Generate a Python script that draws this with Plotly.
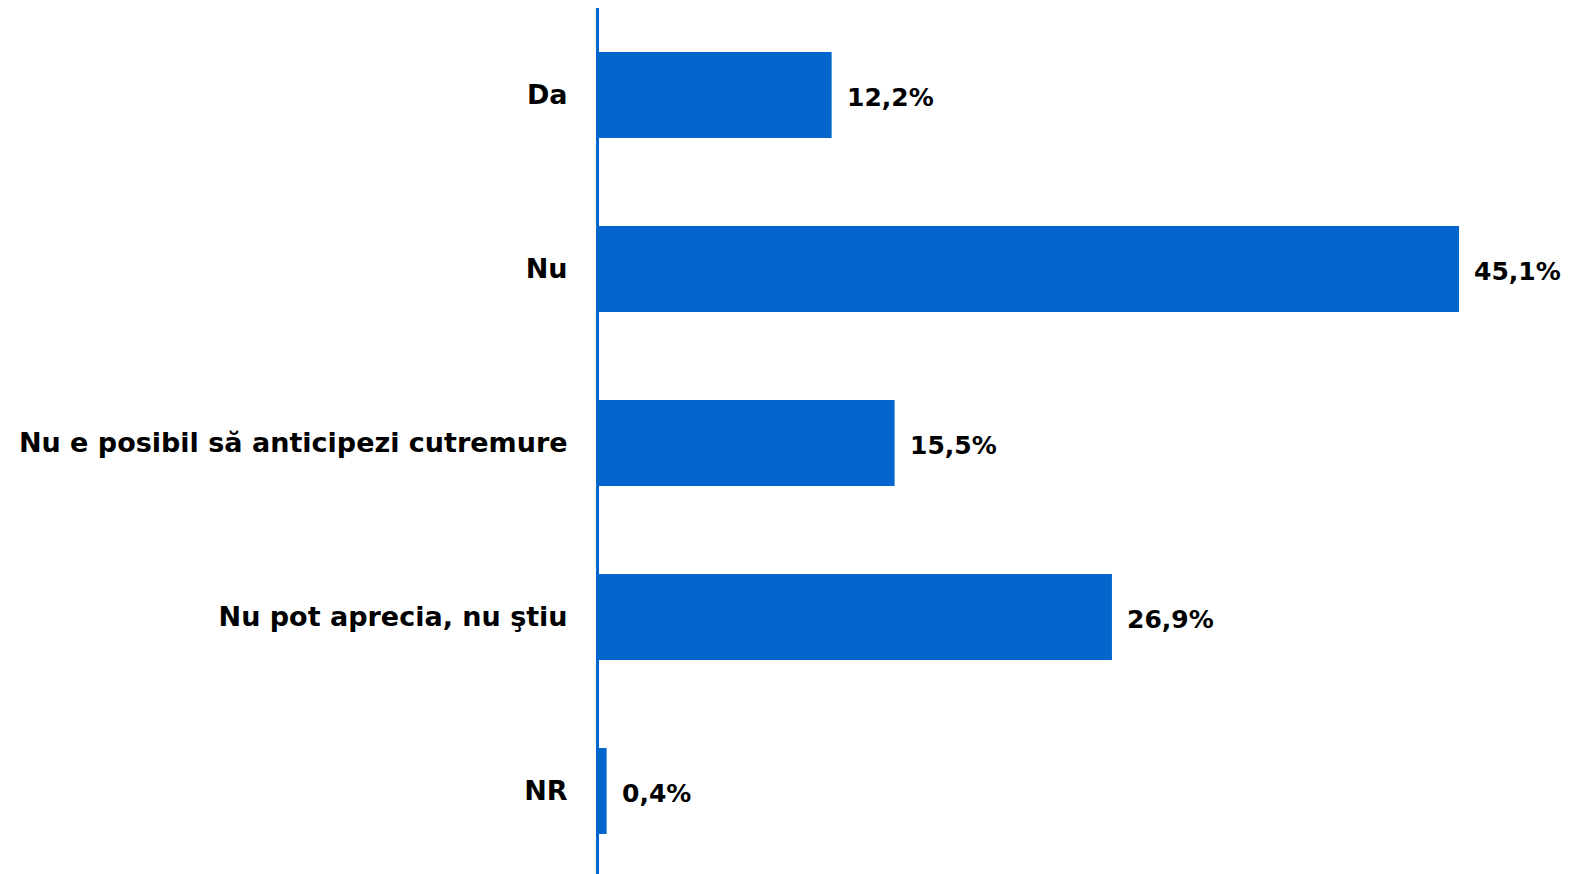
import plotly.graph_objects as go

categories = ["Da", "Nu", "Nu e posibil să anticipezi cutremure", "Nu pot aprecia, nu ştiu", "NR"]
values = [12.2, 45.1, 15.5, 26.9, 0.4]
labels = [f"{v:.1f}".replace(".", ",") + "%" for v in values]

BLUE = "#0366CC"
FONT = "DejaVu Sans"

fig = go.Figure()
fig.add_trace(go.Bar(
    y=categories, x=values, orientation="h",
    marker=dict(color=BLUE, line=dict(width=0)),
    width=0.494, hoverinfo="skip",
))

for c, v, t in zip(categories, values, labels):
    fig.add_annotation(x=v, y=c, text=t, showarrow=False, xanchor="left",
                       xshift=13, yshift=-2,
                       font=dict(family=FONT, size=25, color="black", weight="bold"))

fig.update_layout(
    width=1570, height=874,
    margin=dict(l=591, r=0, t=0, b=4),
    paper_bgcolor="white", plot_bgcolor="white",
    showlegend=False,
)
fig.update_xaxes(range=[0, 51.34], visible=False, fixedrange=True)
fig.update_yaxes(
    range=[4.5, -0.5], type="category",
    showline=True, linecolor=BLUE, linewidth=3,
    showgrid=False, zeroline=False, ticks="",
    ticklabelstandoff=23,
    tickfont=dict(family=FONT, size=27, color="black", weight="bold"),
)

fig.write_html("out.html")
